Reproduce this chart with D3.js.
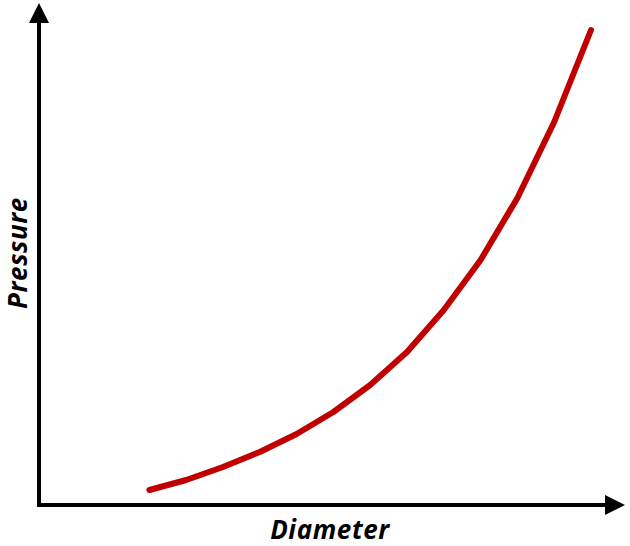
<!DOCTYPE html>
<html>
<head>
<meta charset="utf-8">
<script src="https://cdn.jsdelivr.net/npm/d3@7"></script>
<style>
html,body{margin:0;padding:0;background:#fff;}
svg{display:block;}
</style>
</head>
<body>
<svg id="chart" width="630" height="546"></svg>
<script>
const diameter = [3, 4, 5, 6, 7, 8, 9, 10, 11, 12, 13, 14, 15];
const pressure = [3, 5, 7.6, 10.6, 14.2, 18.6, 24, 30.6, 39, 49, 61.4, 76.6, 95];
const xLabel = "Diameter";
const yLabel = "Pressure";

const svg = d3.select("#chart");
const x = d3.scaleLinear().domain([0, 15]).range([39, 591]);
const y = d3.scaleLinear().domain([0, 100]).range([505, 5]);

// axes
const x0 = x(0), y0 = y(0);
svg.append("line").attr("x1", x0).attr("y1", y0 + 2).attr("x2", x0).attr("y2", 20)
  .attr("stroke", "#000").attr("stroke-width", 4);
svg.append("path").attr("d", `M${x0},3 L${x0 - 10},23 L${x0 + 10},23 Z`).attr("fill", "#000");
svg.append("line").attr("x1", x0 - 2).attr("y1", y0).attr("x2", 608).attr("y2", y0)
  .attr("stroke", "#000").attr("stroke-width", 4);
svg.append("path").attr("d", `M625,${y0} L605,${y0 - 10} L605,${y0 + 10} Z`).attr("fill", "#000");

// curve
const data = diameter.map((d, i) => ({x: d, y: pressure[i]}));
svg.append("path").datum(data)
  .attr("d", d3.line().x(d => x(d.x)).y(d => y(d.y)))
  .attr("fill", "none").attr("stroke", "#C00000").attr("stroke-width", 6)
  .attr("stroke-linecap", "round").attr("stroke-linejoin", "round");

// labels
svg.append("text").attr("x", 330).attr("y", 539).attr("text-anchor", "middle")
  .attr("font-family", "'Open Sans', sans-serif").attr("font-weight", "bold").attr("font-style", "italic")
  .attr("font-size", 26).attr("letter-spacing", 0.6).attr("fill", "#000").text(xLabel);
svg.append("text").attr("transform", "translate(27,253) rotate(-90)").attr("text-anchor", "middle")
  .attr("font-family", "'Open Sans', sans-serif").attr("font-weight", "bold").attr("font-style", "italic")
  .attr("font-size", 26).attr("letter-spacing", 0.6).attr("fill", "#000").text(yLabel);
</script>
</body>
</html>
